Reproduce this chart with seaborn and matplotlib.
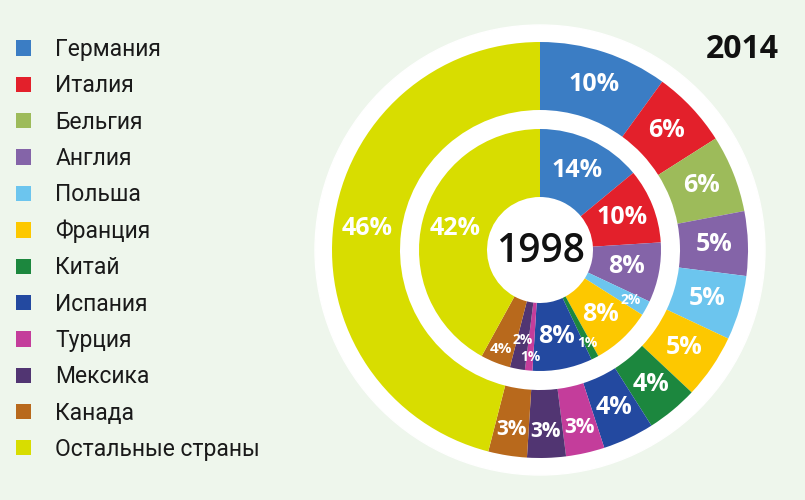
import matplotlib
matplotlib.use("Agg")
import matplotlib.pyplot as plt
from matplotlib.patches import Circle
import numpy as np
import seaborn as sns

# data
countries = ['Германия', 'Италия', 'Бельгия', 'Англия', 'Польша', 'Франция',
             'Китай', 'Испания', 'Турция', 'Мексика', 'Канада', 'Остальные страны']
share_2014 = [10, 6, 6, 5, 5, 5, 4, 4, 3, 3, 3, 46]
share_1998 = [14, 10, 0, 8, 2, 8, 1, 8, 1, 2, 4, 42]
colors = ['#3b7dc4', '#e3202b', '#9dbb5a', '#8464a8', '#6cc5ee', '#fdc800',
          '#1c873e', '#2349a0', '#c43d9b', '#513572', '#b8691c', '#d8dd00']

bg = '#eef6ec'
sns.set_theme(style='white')
plt.rcParams['font.family'] = ['Roboto', 'DejaVu Sans']

fig = plt.figure(figsize=(8.05, 5.0), dpi=100, facecolor=bg)
ax = fig.add_axes([(540 - 250) / 805, 0, 500 / 805, 1])
ax.set_facecolor(bg)

ax.add_patch(Circle((0, 0), 225, color='white', zorder=0))

outer, _ = ax.pie(share_2014, colors=colors, radius=208, startangle=90, counterclock=False,
                  wedgeprops=dict(width=68, linewidth=0), frame=True)
inner, _ = ax.pie(share_1998, colors=colors, radius=121, startangle=90, counterclock=False,
                  wedgeprops=dict(width=68, linewidth=0), frame=True)
ax.set_xlim(-250, 250)
ax.set_ylim(-250, 250)
ax.set_aspect('equal')
ax.axis('off')

# label placement overrides: index -> (radius, font size)
small_outer = {8: (182, 15), 9: (182, 15), 10: (182, 15)}
small_inner = {4: (104, 10), 6: (104, 10), 8: (107, 10), 9: (92, 10), 10: (106, 11)}


def put_label(w, val, r, size):
    ang = np.deg2rad((w.theta1 + w.theta2) / 2)
    ax.text(r * np.cos(ang), r * np.sin(ang), f'{val}%', color='white', fontsize=size,
            fontweight='bold', ha='center', va='center',
            family=['Open Sans', 'DejaVu Sans'])


for i, (w, v) in enumerate(zip(outer, share_2014)):
    r, s = small_outer.get(i, (174, 18))
    put_label(w, v, r, s)

for i, (w, v) in enumerate(zip(inner, share_1998)):
    if v == 0:
        continue
    r, s = small_inner.get(i, (88, 18))
    put_label(w, v, r, s)

ax.text(0, -2, '1998', ha='center', va='center', fontsize=28, color='#111111',
        family=['Open Sans', 'DejaVu Sans'], fontweight='semibold')
fig.text(742 / 805, 1 - 50 / 500, '2014', ha='center', va='center', fontsize=23,
         fontweight='bold', color='#111111', family=['Open Sans', 'DejaVu Sans'])

leg = fig.legend(outer, countries, loc='upper left', bbox_to_anchor=(0.009, 0.942),
                 frameon=False, fontsize=16.5, handlelength=0.65, handleheight=0.65,
                 handletextpad=1.05, labelspacing=0.58, borderaxespad=0)
for t in leg.get_texts():
    t.set_color('#1a1a1a')

fig.savefig('out.png', dpi=100, facecolor=bg)
